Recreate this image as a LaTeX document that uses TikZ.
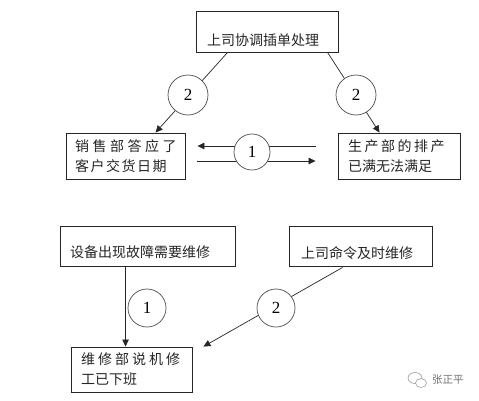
\documentclass[tikz,border=0pt]{standalone}
\usepackage{fontspec}
\setmainfont{Liberation Serif}
\newfontfamily\cjk{Noto Sans CJK SC}
\usetikzlibrary{arrows.meta,calc}
\newcommand\chgap[1]{\hspace{#1pt}}
\begin{document}
\begin{tikzpicture}[x=1pt,y=-1pt,
  box/.style={draw=black!85, line width=0.9pt, inner sep=0pt},
  txt/.style={inner sep=0pt, font=\cjk\fontsize{14}{20}\selectfont, align=left, text=black!85},
  num/.style={draw=black!70, fill=white, circle, inner sep=0pt, line width=0.7pt,
              font=\fontsize{17}{17}\selectfont},
  conn/.style={draw=black!85, line width=0.7pt},
  arr/.style={conn, -{Triangle[length=7pt,width=6.5pt]}},
]
\fill[white] (0,0) rectangle (479,400);
\path[use as bounding box] (0,0) rectangle (479,400);

% boxes
\node[box, minimum width=142pt, minimum height=41pt] (tb) at (267,31.5) {};
\node[txt, anchor=center] (tbt) at (263,40) {上司协调插单处理};

\node[box, minimum width=119pt, minimum height=46pt] (lb) at (125.5,156) {};
\node[txt, anchor=west] (lbt) at (75,156) {销\chgap{3.5}售\chgap{3.5}部\chgap{3.5}答\chgap{3.5}应\chgap{3.5}了\\客\chgap{1.5}户\chgap{1.5}交\chgap{1.5}货\chgap{1.5}日\chgap{1.5}期};

\node[box, minimum width=122pt, minimum height=46pt] (rb) at (399,156) {};
\node[txt, anchor=west] (rbt) at (348,156) {生\chgap{2.5}产\chgap{2.5}部\chgap{2.5}的\chgap{2.5}排\chgap{2.5}产\\已满无法满足};

\node[box, minimum width=175pt, minimum height=40pt] (eq) at (147.5,246) {};
\node[txt, anchor=west] (eqt) at (70,252) {设备出现故障需要维修};

\node[box, minimum width=143pt, minimum height=40pt] (cmd) at (360.5,246) {};
\node[txt, anchor=west] (cmdt) at (301,253) {上司命令及时维修};

\node[box, minimum width=121pt, minimum height=45pt] (rep) at (131.5,369.5) {};
\node[txt, anchor=west] (rept) at (81,369.5) {维\chgap{3}修\chgap{3}部\chgap{3}说\chgap{3}机\chgap{3}修\\工已下班};

% connectors
\draw[arr] ($(tb.south west)+(32,0)$) -- ($(lb.north west)+(90,0)$);
\draw[arr] ($(tb.south west)+(132,0)$) -- ($(rb.north west)+(42,0)$);
\draw[arr] ($(rb.west)+(-22,-10)$) -- ($(lb.east)+(12,-10)$);
\draw[arr] ($(lb.east)+(12,5)$) -- ($(rb.west)+(-22,5)$);
\draw[arr] ($(eq.south west)+(66,0)$) -- ($(rep.north west)+(55,0)$);
\coordinate (tip2) at ($(rep.north east)+(11,0)$);
\draw[arr] ($(cmd.south west)+(54,1)$) -- (tip2);

% numbered circles
\node[num, minimum size=40pt] (c2l) at (188,95) {2};
\node[num, minimum size=40pt] (c2r) at (356,95) {2};
\node[num, minimum size=36pt] (c1) at (252,152) {1};
\node[num, minimum size=38pt] (cb1) at (147,308) {1};
\node[num, minimum size=38pt] (cb2) at (276,308) {2};

% watermark
\draw[black!40, line width=0.6pt] (415,378) ellipse (7 and 5.5);
\draw[black!40, line width=0.6pt, fill=white] (421,383) ellipse (5.5 and 4.5);
\node[inner sep=0pt, anchor=west, font=\cjk\fontsize{10.5}{12}\selectfont, text=black!55] (wm) at (432,380) {张正平};
\end{tikzpicture}
\end{document}
